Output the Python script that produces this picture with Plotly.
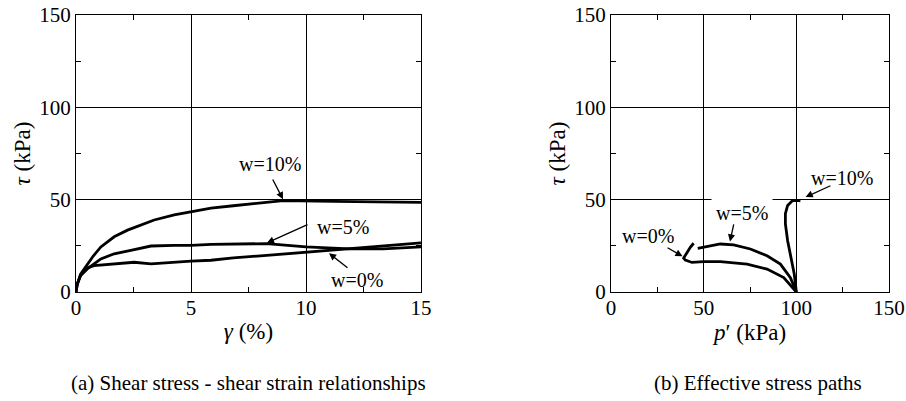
import plotly.graph_objects as go

# ---------------- data: (a) shear stress - shear strain ----------------
gamma_w10 = [0, 0.05, 0.2, 0.49, 0.75, 1.08, 1.66, 2.24, 3.4, 4.27, 5.0, 5.87, 6.84, 8.29, 9.01, 11.2, 13.0, 15.0]
tau_w10 = [0, 4.0, 9.7, 15.2, 19.5, 24.4, 29.9, 33.5, 39.0, 41.8, 43.6, 45.4, 46.7, 48.5, 49.5, 49.1, 49.0, 48.5]

gamma_w5 = [0, 0.05, 0.2, 0.49, 1.08, 1.66, 2.38, 3.26, 4.27, 5.0, 5.87, 6.84, 8.29, 10.0, 11.9, 13.36, 15.0]
tau_w5 = [0, 4.0, 9.0, 12.5, 17.9, 20.7, 22.5, 24.9, 25.3, 25.3, 25.8, 25.8, 26.2, 24.4, 23.4, 23.4, 24.4]

gamma_w0 = [0, 0.05, 0.2, 0.49, 0.78, 1.66, 2.53, 3.26, 4.13, 5.0, 5.87, 6.84, 8.29, 10.0, 11.9, 13.36, 15.0]
tau_w0 = [0, 4.0, 9.0, 13.0, 14.3, 15.2, 16.1, 15.2, 16.1, 16.7, 17.2, 18.5, 19.8, 21.6, 23.4, 24.9, 26.6]

# ---------------- data: (b) effective stress paths ----------------
p_w10 = [100.0, 98.9, 97.1, 95.3, 94.1, 94.1, 95.3, 97.7, 100.0, 102.2]
tp_w10 = [0.0, 9.6, 18.7, 27.8, 36.9, 42.4, 46.9, 49.3, 49.6, 49.3]

p_w5 = [100.0, 96.8, 91.4, 84.2, 75.2, 66.2, 59.0, 53.6, 48.2, 46.8]
tp_w5 = [0.0, 7.8, 15.1, 19.6, 23.3, 25.5, 26.0, 25.1, 24.2, 23.6]

p_w0 = [100.0, 93.2, 84.2, 73.4, 59.0, 50.0, 43.7, 40.1, 39.2, 41.0, 42.8, 44.6]
tp_w0 = [0.0, 7.8, 12.4, 15.1, 16.4, 16.5, 16.0, 17.3, 18.4, 21.5, 24.2, 26.4]

x_ticks_a = [0, 5, 10, 15]
x_ticks_b = [0, 50, 100, 150]
y_ticks = [0, 50, 100, 150]

FONT = "Liberation Serif, Times New Roman, serif"
W, H = 906, 401

fig = go.Figure()
line = dict(color="black", width=2.8)
for gx, gy in [(gamma_w10, tau_w10), (gamma_w5, tau_w5), (gamma_w0, tau_w0)]:
    fig.add_trace(go.Scatter(x=gx, y=gy, mode="lines", line=line, xaxis="x", yaxis="y",
                             showlegend=False, hoverinfo="skip"))
for px_, py_ in [(p_w10, tp_w10), (p_w5, tp_w5), (p_w0, tp_w0)]:
    fig.add_trace(go.Scatter(x=px_, y=py_, mode="lines", line=line, xaxis="x2", yaxis="y2",
                             showlegend=False, hoverinfo="skip"))

ydom = [1 - 292 / H, 1 - 15 / H]
tf = dict(family=FONT, size=21, color="black")
ttl = dict(family=FONT, size=23, color="black")


def axis_common(rng, ticks, minor_dtick, domain, anchor):
    return dict(
        range=rng, domain=domain, anchor=anchor, automargin=False,
        tickmode="array", tickvals=ticks, ticktext=[str(t) for t in ticks],
        showgrid=True, gridcolor="black", gridwidth=1,
        showline=True, linecolor="black", linewidth=1, mirror="allticks",
        ticks="inside", ticklen=5, tickcolor="black",
        minor=dict(dtick=minor_dtick, tick0=0, ticks="inside", ticklen=5, tickcolor="black", showgrid=False),
        zeroline=False,
        tickfont=tf,
        fixedrange=True,
    )


xa = axis_common([0, 15], x_ticks_a, 2.5, [76 / W, 421 / W], "y")
xa.update(title=dict(text="<i>γ</i> (%)", font=ttl, standoff=3), ticklabelstandoff=-3)
ya = axis_common([0, 150], y_ticks, 25, ydom, "x")
ya.update(title=dict(text="<i>τ</i> (kPa)", font=ttl, standoff=2))
xb = axis_common([0, 150], x_ticks_b, 25, [611 / W, 889 / W], "y2")
xb.update(title=dict(text="<i>p</i>′ (kPa)", font=ttl, standoff=3), ticklabelstandoff=-3)
yb = axis_common([0, 150], y_ticks, 25, ydom, "x2")
yb.update(title=dict(text="<i>τ</i> (kPa)", font=ttl, standoff=2))

annots = []
lf = dict(family=FONT, size=20, color="black")


def label(text, x, y, xref, yref, bg=False):
    d = dict(text=text, x=x, y=y, xref=xref, yref=yref, showarrow=False, font=lf,
             xanchor="center", yanchor="middle")
    if bg:
        d.update(bgcolor="white", borderpad=4)
    annots.append(d)


def arrow(x0, y0, x1, y1, xref, yref):
    annots.append(dict(text="", x=x1, y=y1, ax=x0, ay=y0, xref=xref, yref=yref,
                       axref=xref, ayref=yref, showarrow=True, arrowhead=2,
                       arrowsize=1.1, arrowwidth=1.3, arrowcolor="black", standoff=0))


# panel (a)
label("w=10%", 8.43, 69.5, "x", "y", bg=True)
arrow(8.52, 61.7, 9.0, 50.2, "x", "y")
label("w=5%", 11.6, 35.3, "x", "y")
arrow(10.13, 36.8, 8.3, 26.6, "x", "y")
label("w=0%", 12.2, 6.6, "x", "y")
arrow(11.87, 12.5, 11.0, 21.0, "x", "y")
# panel (b)
label("w=10%", 124.6, 61.9, "x2", "y2")
arrow(119.2, 57.9, 105.0, 51.4, "x2", "y2")
label("w=5%", 70.7, 42.9, "x2", "y2", bg=True)
arrow(66.4, 37.4, 64.2, 27.4, "x2", "y2")
label("w=0%", 20.0, 30.5, "x2", "y2")
arrow(29.7, 24.4, 38.6, 19.3, "x2", "y2")

# captions
cfont = dict(family=FONT, size=21, color="black")
annots.append(dict(text="(a) Shear stress - shear strain relationships", x=248 / W, y=1 - 383 / H,
                   xref="paper", yref="paper", showarrow=False, font=cfont, xanchor="center", yanchor="middle"))
annots.append(dict(text="(b) Effective stress paths", x=758 / W, y=1 - 383 / H,
                   xref="paper", yref="paper", showarrow=False, font=cfont, xanchor="center", yanchor="middle"))

fig.update_layout(
    width=W, height=H,
    margin=dict(l=0, r=0, t=0, b=0, autoexpand=False),
    paper_bgcolor="white", plot_bgcolor="white",
    xaxis=xa, yaxis=ya, xaxis2=xb, yaxis2=yb,
    annotations=annots,
    font=dict(family=FONT, color="black"),
    showlegend=False,
)

fig.write_html("out.html", config={"displayModeBar": False},
               post_script="document.body.style.margin='0';document.body.style.overflow='hidden';")
